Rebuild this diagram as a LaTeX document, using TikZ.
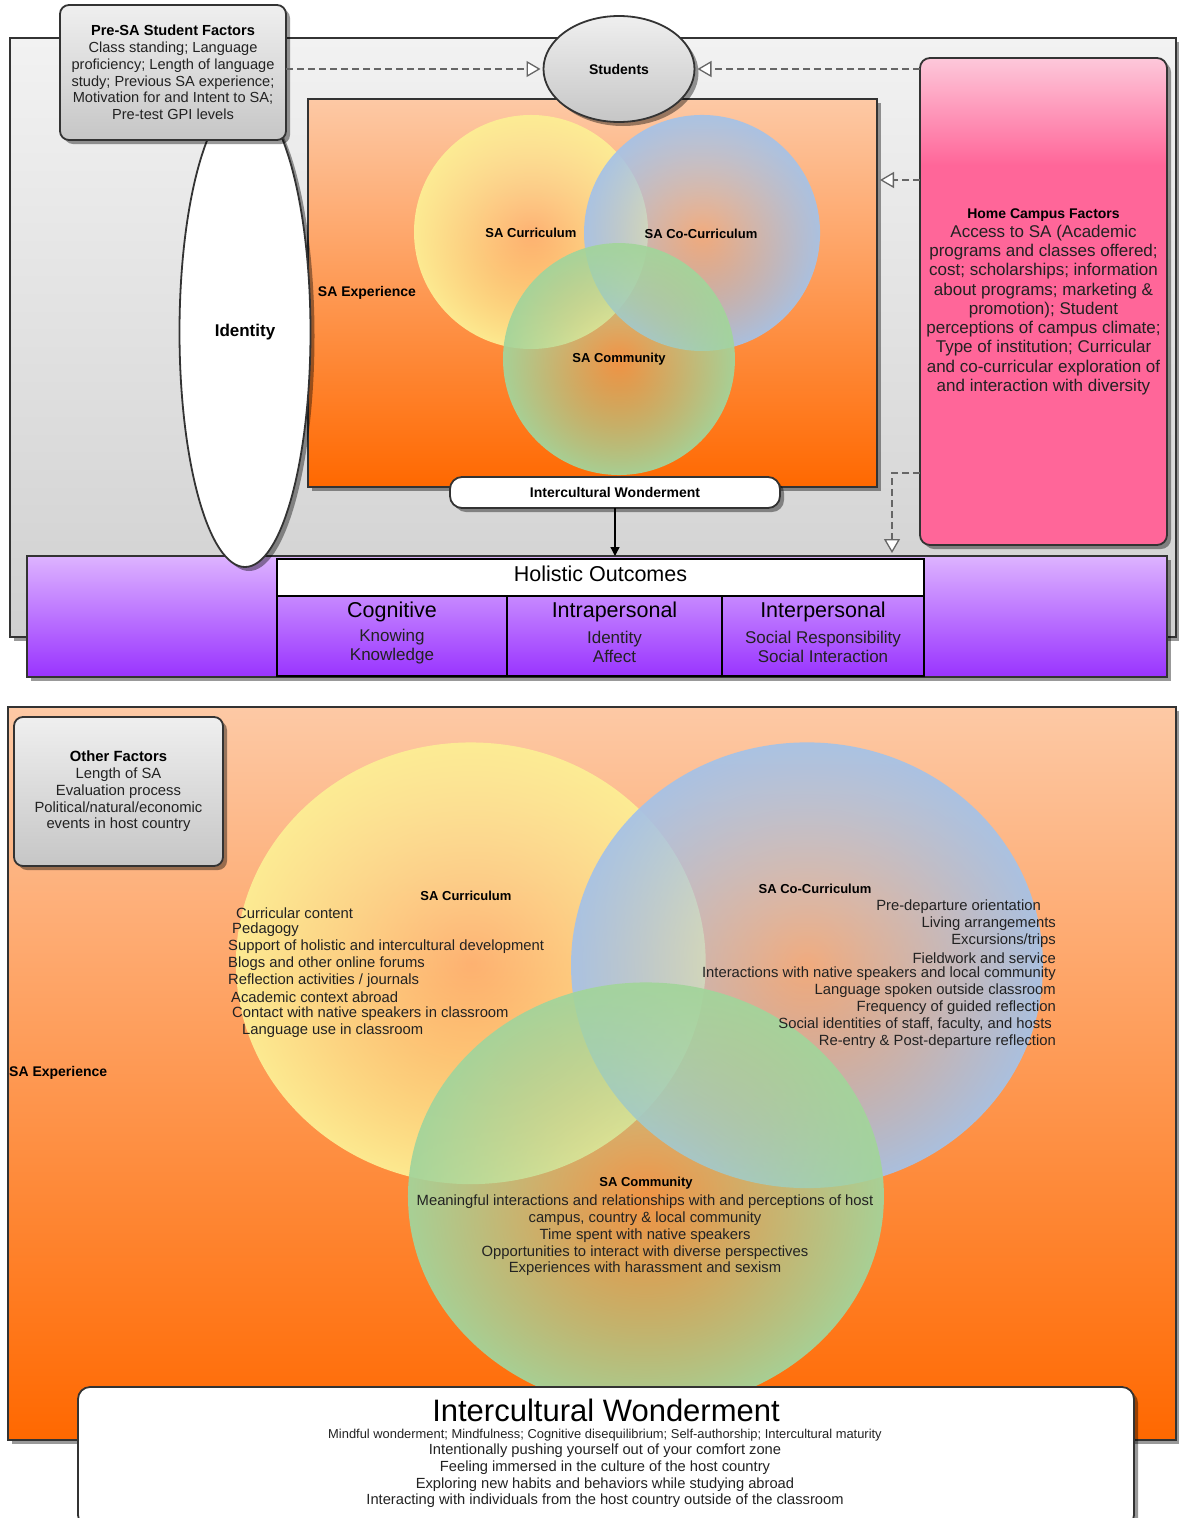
\documentclass[tikz,border=0pt]{standalone}
\usepackage{fontspec}
\setmainfont{Liberation Sans}
\usetikzlibrary{shadows,fadings,arrows.meta,shapes.geometric}
\definecolor{bgtop}{HTML}{F2F2F2}
\definecolor{bgbot}{HTML}{D0D0D0}
\definecolor{grtop}{HTML}{EFEFEF}
\definecolor{grbot}{HTML}{C6C6C6}
\definecolor{ortop}{HTML}{FDC9A5}
\definecolor{orbot}{HTML}{FF6800}
\definecolor{pktop}{HTML}{FDC8DA}
\definecolor{pk}{HTML}{FF6699}
\definecolor{pptop}{HTML}{DDB3FF}
\definecolor{ppbot}{HTML}{9933FF}
\definecolor{edge}{HTML}{333333}
\definecolor{vyel}{HTML}{FCEE94}
\definecolor{vblu}{HTML}{A6C2E6}
\definecolor{vgrn}{HTML}{A3D49B}
\definecolor{txt}{HTML}{222222}
\definecolor{dashc}{HTML}{666666}
\tikzfading[name=vennfade, inner color=transparent!85, outer color=transparent!5]
\pgfdeclareverticalshading{pinkshade}{100bp}{color(0bp)=(pk); color(64bp)=(pk); color(75bp)=(pktop); color(100bp)=(pktop)}
\newcommand{\fsz}[2]{\fontsize{#1}{#2}\selectfont}
\begin{document}
\begin{tikzpicture}[x=1pt,y=-1pt,
  shd/.style={drop shadow={shadow xshift=4pt,shadow yshift=-4pt,opacity=0.4,fill=black}},
  box/.style={inner sep=0pt, outer sep=0pt, draw=edge, line width=1.8pt},
  graybox/.style={box, rounded corners=9pt, top color=grtop, bottom color=grbot, shd, align=center, text=txt},
  orangebox/.style={box, top color=ortop, bottom color=orbot, shd},
  lbl/.style={font=\bfseries\fsz{13}{16}, text=black, inner sep=0pt},
  body/.style={font=\fsz{14.8}{16.8}, text=txt, inner sep=0pt},
  dasharrow/.style={draw=dashc, line width=2pt, dash pattern=on 7pt off 4pt, shorten >=3pt, -{Triangle[open, fill=white, length=14pt, width=16pt, line width=1.3pt]}},
  col/.style={inner sep=0pt, outer sep=0pt, draw=black, line width=2pt, minimum height=80pt},
  colhead/.style={font=\fsz{21.5}{24}, text=black, inner sep=0pt},
  colsub/.style={font=\fsz{17}{19}, text=txt, inner sep=0pt, align=center},
]
\useasboundingbox (0,0) rectangle (1178,1518);
\fill[white] (0,0) rectangle (1178,1518);

% ---------------- TOP PANEL ----------------
\node[box, top color=bgtop, bottom color=bgbot, shd, minimum width=1166pt, minimum height=599pt] (bg) at (593,337.5) {};
\node[orangebox, minimum width=569pt, minimum height=388pt] (exp) at (592.5,293) {};
\node[font=\bfseries\fsz{14}{16}, inner sep=0pt] (explbl) at (367,293) {SA Experience};

\fill[vyel, path fading=vennfade] (531,232) circle[radius=117pt];
\fill[vblu, path fading=vennfade] (702,233) circle[radius=118pt];
\fill[vgrn, path fading=vennfade] (619,359) circle[radius=116pt];
\node[lbl] (cur) at (531,233) {SA Curriculum};
\node[lbl] (cocur) at (701,234) {SA Co-Curriculum};
\node[lbl] (com) at (619,359) {SA Community};

% purple outcomes bar
\node[box, top color=pptop, bottom color=ppbot, shd, minimum width=1140pt, minimum height=121pt] (pb) at (597,616.5) {};
\node[inner sep=0pt, outer sep=0pt, draw=black, line width=2pt, fill=white, minimum width=647pt, minimum height=37pt] (hoh) at (600.5,577.5) {};
\node[font=\fsz{21.5}{24}, inner sep=0pt] (hot) at (600.5,574) {Holistic Outcomes};
\node[col, minimum width=230pt] (c1) at (392,636) {};
\node[col, minimum width=215pt] (c2) at (614.5,636) {};
\node[col, minimum width=202pt] (c3) at (823,636) {};
\node[colhead] (c1h) at (392,612) {Cognitive};
\node[colhead] (c2h) at (614.5,612) {Intrapersonal};
\node[colhead] (c3h) at (823,612) {Interpersonal};
\node[colsub] (c1s) at (392,647) {Knowing\\Knowledge};
\node[colsub] (c2s) at (614.5,647) {Identity\\Affect};
\node[colsub] (c3s) at (823,647) {Social Responsibility\\Social Interaction};

% home campus
\node[box, rounded corners=10pt, shade, shading=pinkshade, shd, minimum width=247pt, minimum height=487pt, align=center, text=txt, font=\fsz{17}{19.25}] (home) at (1043.5,301.5)
  {{\bfseries\fsz{14}{19.25}\color{black}Home Campus Factors}\\Access to SA (Academic\\programs and classes offered;\\cost; scholarships; information\\about programs; marketing \&\\promotion); Student\\perceptions of campus climate;\\Type of institution; Curricular\\and co-curricular exploration of\\and interaction with diversity};

% small wonderment
\node[box, rounded corners=12pt, fill=white, shd, minimum width=330pt, minimum height=31pt, font=\bfseries\fsz{14}{16}] (iw) at (615,492.5) {Intercultural Wonderment};

% identity
\node[ellipse, box, fill=white, shd, minimum width=131pt, minimum height=470pt, font=\bfseries\fsz{17}{20}] (id) at (245,332) {\raisebox{-3pt}{Identity}};

% pre-SA
\node[graybox, minimum width=226pt, minimum height=135pt, font=\fsz{14.6}{16.8}] (pre) at (173,72.5)
  {{\bfseries\color{black}Pre-SA Student Factors}\\Class standing; Language\\proficiency; Length of language\\study; Previous SA experience;\\Motivation for and Intent to SA;\\Pre-test GPI levels};

% students
\node[ellipse, graybox, minimum width=151pt, minimum height=106pt, font=\bfseries\fsz{14}{16}] (stu) at (619,69) {\color{black}Students};

% connectors
\coordinate (h1) at (0,180);
\coordinate (hk) at (892,473);
\draw[dasharrow] (pre.east |- stu.west) -- (stu.west);
\draw[dasharrow] (home.west |- stu.east) -- (stu.east);
\draw[dasharrow] (home.west |- h1) -- (exp.east |- h1);
\draw[dasharrow] (home.west |- hk) -- (hk) -- (hk |- pb.north);
\draw[line width=1.3pt, -{Triangle[length=9pt, width=9pt]}] (iw.south) -- (iw.south |- pb.north);

% ---------------- BOTTOM PANEL ----------------
\node[orangebox, minimum width=1168pt, minimum height=733pt] (exp2) at (592,1073.5) {};
\node[font=\bfseries\fsz{14}{16}, inner sep=0pt, anchor=west] (explbl2) at (9,1073) {SA Experience};

\fill[vyel, path fading=vennfade] (471,963) ellipse[x radius=235pt, y radius=221pt];
\fill[vblu, path fading=vennfade] (807,965) ellipse[x radius=236pt, y radius=223pt];
\fill[vgrn, path fading=vennfade] (646,1196) ellipse[x radius=238pt, y radius=214pt];

\node[graybox, minimum width=209pt, minimum height=149pt, font=\fsz{14.8}{16.8}] (oth) at (118.5,791.5)
  {{\bfseries\color{black}Other Factors}\\Length of SA\\Evaluation process\\Political/natural/economic\\events in host country};

\node[lbl] (cur2) at (466,896) {SA Curriculum};
\node[lbl] (cocur2) at (815,889) {SA Co-Curriculum};
\node[lbl] (com2) at (646,1183) {SA Community};

\foreach \x/\y/\t [count=\i] in {236/913/{Curricular content}, 232/930/{Pedagogy}, 228/947/{Support of holistic and intercultural development}, 228/964/{Blogs and other online forums}, 228/981/{Reflection activities / journals}, 231/997/{Academic context abroad}, 232/1014/{Contact with native speakers in classroom}, 242/1031/{Language use in classroom}}
  \node[body, anchor=west] (cl\i) at (\x,\y) {\t};

\foreach \x/\y/\t [count=\i] in {1041/907/{Pre-departure orientation}, 1056/924/{Living arrangements}, 1056/941/{Excursions/trips}, 1056/958/{Fieldwork and service}, 1056/974/{Interactions with native speakers and local community}, 1056/991/{Language spoken outside classroom}, 1056/1008/{Frequency of guided reflection}, 1052/1025/{Social identities of staff, faculty, and hosts}, 1056/1042/{Re-entry \& Post-departure reflection}}
  \node[body, anchor=east] (ccl\i) at (\x,\y) {\t};

\node[body, align=center] (coml) at (645,1235.5) {Meaningful interactions and relationships with and perceptions of host\\campus, country \& local community\\Time spent with native speakers\\Opportunities to interact with diverse perspectives\\Experiences with harassment and sexism};

% big wonderment box
\node[box, rounded corners=12pt, fill=white, shd, minimum width=1056pt, minimum height=140pt] (iwb) at (606,1457) {};
\node[font=\fsz{31}{34}, inner sep=0pt] (iwbt) at (606,1410) {Intercultural Wonderment};
\node[font=\fsz{12.9}{16.5}, text=txt, inner sep=0pt] (iwbl1) at (605,1435) {Mindful wonderment; Mindfulness; Cognitive disequilibrium; Self-authorship; Intercultural maturity};
\node[font=\fsz{14.7}{16.6}, text=txt, inner sep=0pt, align=center] (iwbl) at (605,1476) {Intentionally pushing yourself out of your comfort zone\\Feeling immersed in the culture of the host country\\Exploring new habits and behaviors while studying abroad\\Interacting with individuals from the host country outside of the classroom};
\end{tikzpicture}
\end{document}
